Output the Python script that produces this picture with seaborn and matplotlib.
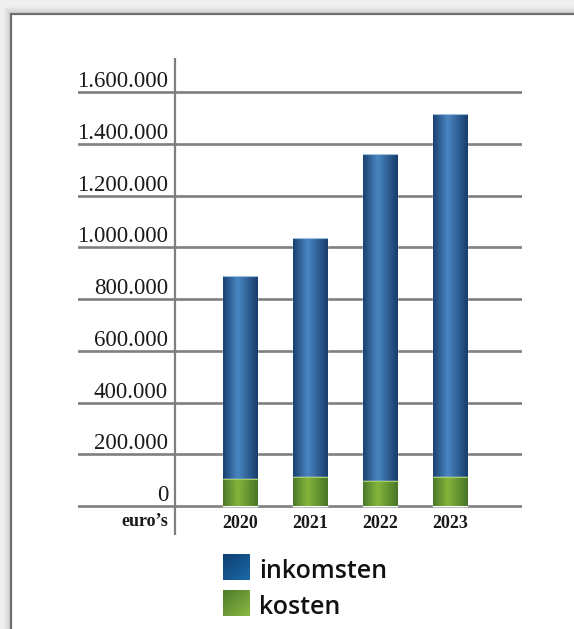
import numpy as np
import pandas as pd
import matplotlib
matplotlib.use("Agg")
import matplotlib.pyplot as plt
from matplotlib.colors import LinearSegmentedColormap
from matplotlib.patches import Rectangle
from matplotlib import transforms
import seaborn as sns

# ---------- data ----------
jaren = ["2020", "2021", "2022", "2023"]
inkomsten = [889000, 1036000, 1360000, 1515000]
kosten = [104000, 112000, 97000, 112000]
y_ticks = [0, 200000, 400000, 600000, 800000, 1000000, 1200000, 1400000, 1600000]
y_labels = ["0", "200.000", "400.000", "600.000", "800.000",
            "1.000.000", "1.200.000", "1.400.000", "1.600.000"]
eenheid = "euro\u2019s"
legenda = ["inkomsten", "kosten"]

df = pd.DataFrame({"jaar": jaren, "inkomsten": inkomsten, "kosten": kosten})

# ---------- style ----------
sns.set_style("white")
plt.rcParams["font.family"] = ["Liberation Serif", "DejaVu Serif"]

W, H = 574, 629
fig = plt.figure(figsize=(W / 100, H / 100), dpi=100)
fig.patch.set_facecolor("#efefef")

# background panel (pixel coordinates)
bg = fig.add_axes([0, 0, 1, 1], zorder=0)
bg.set_xlim(0, W)
bg.set_ylim(H, 0)
bg.axis("off")
for i in range(1, 8):
    bg.add_patch(Rectangle((11 - i, 14 - i), 700, 700, facecolor="black",
                           alpha=0.018, edgecolor="none"))
bg.add_patch(Rectangle((11, 14), 700, 700, facecolor="white",
                       edgecolor="#6b6f73", linewidth=1.6))

# gradients
blue_cmap = LinearSegmentedColormap.from_list(
    "blauw", [(0, "#1b4270"), (0.42, "#4a86c2"), (1, "#173d6b")])
green_cmap = LinearSegmentedColormap.from_list(
    "groen", [(0, "#4a7a2a"), (0.42, "#86b53c"), (1, "#477628")])
grad = np.linspace(0, 1, 64).reshape(1, -1)

# ---------- main axes ----------
ax = fig.add_axes([78 / W, (H - 535) / H, 444 / W, 477 / H], zorder=1)
ax.set_facecolor("none")

sns.barplot(data=df, x="jaar", y="inkomsten", color="#1f4f85", width=0.49,
            saturation=1, ax=ax, zorder=2)
sns.barplot(data=df, x="jaar", y="kosten", color="#6a9a34", width=0.49,
            saturation=1, ax=ax, zorder=3)

n = len(jaren)
for i, p in enumerate(ax.patches):
    cmap = blue_cmap if i < n else green_cmap
    x0, y0 = p.get_x(), p.get_y()
    im = ax.imshow(grad, cmap=cmap, aspect="auto",
                   extent=(x0, x0 + p.get_width(), y0, y0 + p.get_height()),
                   zorder=2.5 if i < n else 3.5, interpolation="bicubic")
    im.set_clip_path(p)
    # light top edge
    ax.plot([x0, x0 + p.get_width()], [y0 + p.get_height()] * 2,
            color="#9cc0e0" if i < n else "#a6cc60", lw=0.8,
            zorder=4 if i < n else 4.5)

ax.set_xlim(-2.314, 4.029)
ax.set_ylim(-112000, 1731400)
ax.set_yticks(y_ticks)
ax.yaxis.grid(True, color="#7f7f7f", linewidth=1.9)
ax.set_axisbelow(True)
ax.tick_params(left=False, bottom=False, labelleft=False, labelbottom=False)
for s in ax.spines.values():
    s.set_visible(False)
ax.set_xlabel("")
ax.set_ylabel("")
ax.axvline(-0.929, color="#7f7f7f", linewidth=1.6, zorder=1)

# y tick labels, sitting on the gridlines
lab_tr = transforms.offset_copy(ax.get_yaxis_transform(), fig=fig, y=3.5, units="points")
for v, t in zip(y_ticks, y_labels):
    ax.text((168 - 78) / 444, v, t, transform=lab_tr, ha="right",
            va="baseline", fontsize=16.5, color="#1a1a1a")

# x labels
xtr = ax.get_xaxis_transform()
for i, j in enumerate(jaren):
    ax.text(i, (535 - 523) / 477, j, transform=xtr, ha="center", va="center",
            fontsize=13, fontweight="bold", color="#1a1a1a")
ax.text((168 - 78) / 444, (535 - 522) / 477, eenheid, transform=ax.transAxes,
        ha="right", va="center", fontsize=13, fontweight="bold", color="#1a1a1a")

# ---------- legend ----------
sq = np.add.outer(np.linspace(0, 1, 32), np.linspace(0, 1, 32)) / 2
leg_blue = LinearSegmentedColormap.from_list("lb", ["#0f3f70", "#1a6aa8"])
leg_green = LinearSegmentedColormap.from_list("lg", ["#4d7c2c", "#8cb842"])
for k, (naam, cm, top) in enumerate(zip(legenda, [leg_blue, leg_green], [554, 590])):
    bg.imshow(sq, cmap=cm, extent=(223, 250, top + 26, top), aspect="auto",
              interpolation="bicubic", zorder=2)
    bg.text(259, top + 17, naam, ha="left", va="center", fontsize=18,
            fontweight="semibold", family=["Open Sans", "DejaVu Sans"],
            color="#111111", zorder=2)
bg.set_xlim(0, W)
bg.set_ylim(H, 0)

fig.savefig("out.png", dpi=100)
